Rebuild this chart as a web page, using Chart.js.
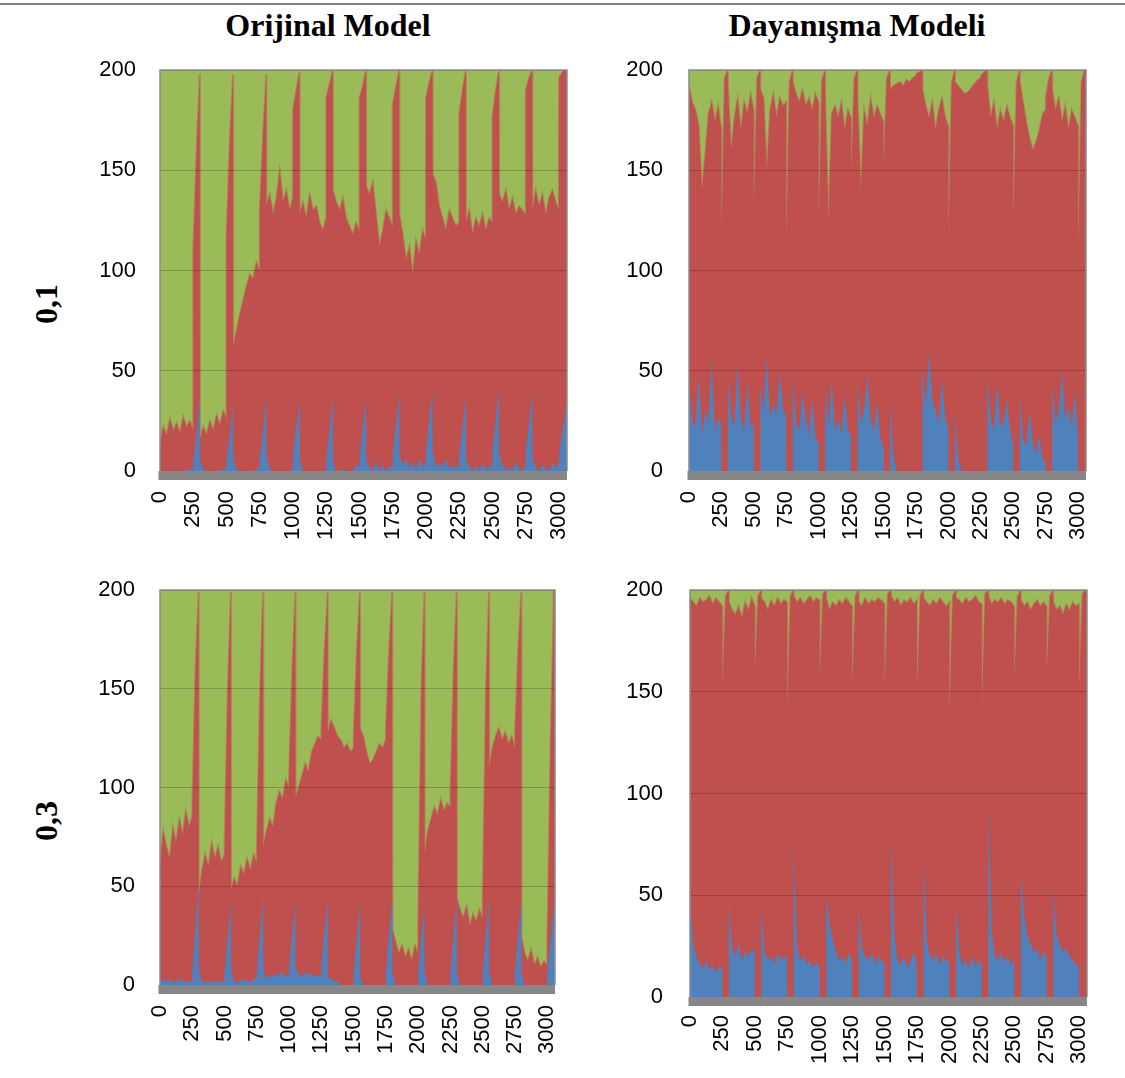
<!DOCTYPE html>
<html><head><meta charset="utf-8">
<script src="https://cdn.jsdelivr.net/npm/chart.js@4.4.1/dist/chart.umd.min.js"></script>
<style>
body{margin:0;background:#fff;width:1125px;height:1078px;overflow:hidden;position:relative;font-family:"Liberation Sans",Arial,sans-serif}
.wrap{position:absolute}
.title{position:absolute;font-family:"Liberation Serif","Times New Roman",serif;font-weight:bold;font-size:32px;color:#000;white-space:nowrap;transform:translate(-50%,-50%)}
.row{position:absolute;font-family:"Liberation Serif","Times New Roman",serif;font-weight:bold;font-size:32px;color:#000;white-space:nowrap;transform:translate(-50%,-50%) rotate(-90deg)}
.topline{position:absolute;left:0;top:3px;width:1125px;height:2px;background:#808080}
</style></head>
<body>
<div class="topline"></div>
<div class="title" style="left:328px;top:25px">Orijinal Model</div>
<div class="title" style="left:857px;top:25px">Dayanışma Modeli</div>
<div class="row" style="left:46px;top:304px">0,1</div>
<div class="row" style="left:46px;top:821px">0,3</div>
<div class="wrap" id="c1"></div>
<div class="wrap" id="c2"></div>
<div class="wrap" id="c3"></div>
<div class="wrap" id="c4"></div>
<script>
const xTicks = [0,250,500,750,1000,1250,1500,1750,2000,2250,2500,2750,3000];
const yTicks = [0,50,100,150,200];

const xSteps = [
0,25,
50,75,100,125,150,175,200,225,249,250,275,299,
300,325,350,375,400,425,450,475,499,500,525,549,
550,575,600,625,650,675,700,725,749,750,775,799,
800,825,850,875,900,925,950,975,999,1000,1025,1049,
1050,1075,1100,1125,1150,1175,1200,1225,1249,1250,1275,1299,
1300,1325,1350,1375,1400,1425,1450,1475,1499,1500,1525,1549,
1550,1575,1600,1625,1650,1675,1700,1725,1749,1750,1775,1799,
1800,1825,1850,1875,1900,1925,1950,1975,1999,2000,2025,2049,
2050,2075,2100,2125,2150,2175,2200,2225,2249,2250,2275,2299,
2300,2325,2350,2375,2400,2425,2450,2475,2499,2500,2525,2549,
2550,2575,2600,2625,2650,2675,2700,2725,2749,2750,2775,2799,
2800,2825,2850,2875,2900,2925,2950,2975,2999,3000,3025,3049,
3050,3060];

// Orijinal Model, 0,1 : blue count and top of red (blue+red); green fills the rest up to 200
const orig01Blue = [
0,0,
0,0,0,0,0,0,0,1, 1,4,18,38,
6,1,0,0,0,0,0,1, 2,5,18,34,
6,1,0,0,0,0,0,1, 2,6,20,38,
8,1,0,0,0,0,0,0, 1,8,22,35,
6,0,0,0,0,0,0,0, 1,6,20,38,
5,0,0,1,0,0,0,3, 2,6,22,36,
6,2,0,5,0,3,0,2, 2,8,24,40,
8,3,6,2,4,1,6,3, 3,10,26,40,
10,2,4,2,6,1,3,2, 2,8,22,38,
6,2,0,3,0,4,1,2, 3,10,26,42,
8,3,0,2,0,5,1,0, 3,10,24,40,
6,2,0,3,1,0,4,2, 3,8,20,30,
32,34];
const orig01RedTop = [
14,22,
18,26,20,24,19,27,22,25, 20,110,160,198,
16,22,18,25,20,28,23,30, 26,118,165,198,
62,70,78,85,92,98,96,104, 100,130,168,198,
132,138,128,136,150,134,140,130, 136,180,190,199,
128,134,126,138,130,132,124,120, 126,186,193,200,
140,134,130,136,126,122,118,124, 120,186,192,200,
142,138,144,128,112,120,130,126, 122,183,192,200,
128,118,105,112,98,115,108,120, 115,186,194,200,
148,144,132,126,120,130,126,122, 124,178,190,200,
124,130,118,126,122,128,120,126, 124,177,190,200,
138,134,140,130,136,128,132,130, 128,190,196,200,
130,140,132,138,128,136,140,134, 130,196,199,200,
200,200];

// Dayanışma Modeli, 0,1
const dayan01Blue = [
45,25,
22,48,18,30,24,56,20,26, 24,0,0,0,
46,28,22,54,26,20,44,22, 24,0,0,0,
44,30,58,26,34,28,50,30, 28,0,0,0,
48,24,20,40,26,18,36,16, 14,0,0,0,
42,22,46,20,26,18,38,20, 18,0,0,0,
44,24,30,48,26,20,34,16, 12,0,0,0,
36,8,0,0,0,0,0,0, 0,0,0,0,
52,32,60,36,30,24,46,26, 22,0,0,0,
30,6,0,0,0,0,0,0, 0,0,0,0,
46,26,20,44,22,24,36,20, 14,0,0,0,
38,16,12,30,14,8,18,6, 4,0,0,0,
44,24,30,50,26,32,22,40, 16,0,0,0,
0,0];
const dayan01RedTop = [
192,184,
180,172,140,158,178,184,174,182, 170,118,196,200,
192,160,176,186,170,184,178,188, 180,132,196,200,
190,186,150,180,188,176,186,182, 184,115,194,200,
194,188,184,190,182,186,180,188, 184,124,195,200,
186,125,178,182,176,184,170,180, 176,150,196,200,
184,140,180,172,186,176,182,178, 174,152,196,200,
190,192,193,194,192,195,194,196, 197,198,199,200,
190,182,176,184,170,180,186,176, 172,118,194,200,
194,192,190,188,189,191,193,195, 196,197,199,200,
192,176,184,170,180,174,182,176, 172,124,194,200,
194,184,174,166,160,164,170,178, 180,186,196,200,
190,180,186,174,182,170,180,176, 172,110,194,200,
200,200];

// Orijinal Model, 0,3
const orig03Blue = [
3,2,
2,3,1,2,3,2,1,2, 2,6,28,52,
8,2,1,2,1,2,1,2, 2,5,25,42,
8,2,1,2,3,2,1,3, 3,6,26,45,
8,3,5,4,6,5,7,4, 5,8,26,42,
8,6,4,7,5,6,4,5, 5,10,28,44,
4,3,2,2,0,0,0,0, 0,4,24,42,
4,0,0,0,0,0,0,0, 0,6,26,44,
6,0,0,0,0,0,0,0, 0,5,24,40,
6,0,0,0,0,0,0,0, 0,6,26,44,
6,0,0,0,0,0,0,0, 0,6,26,44,
6,0,0,0,0,0,0,0, 0,6,26,44,
6,0,0,0,0,0,0,0, 0,5,22,38,
40,42];
const orig03RedTop = [
62,78,
70,64,80,72,84,76,88,80, 85,90,160,199,
45,58,66,60,72,64,70,62, 66,70,150,199,
48,54,50,60,56,64,58,66, 62,70,150,199,
70,78,84,80,92,98,94,104, 100,108,160,199,
95,100,106,112,108,118,122,126, 124,130,170,199,
128,134,130,126,124,120,122,118, 120,126,170,199,
130,126,118,112,114,118,122,120, 124,130,170,199,
28,22,16,20,14,18,12,20, 16,30,150,199,
66,78,84,90,86,94,88,92, 90,96,160,199,
44,38,34,40,30,36,32,38, 34,44,150,199,
110,120,126,130,124,128,122,126, 120,128,170,199,
24,16,12,18,10,14,9,12, 10,20,120,190,
200,200];

// Dayanışma Modeli, 0,3
const dayan03Blue = [
50,26,
20,16,14,18,13,16,12,15, 14,0,0,0,
46,24,20,26,18,22,20,24, 22,0,0,0,
46,22,18,20,16,22,18,20, 19,0,0,0,
74,24,18,20,16,18,14,17, 15,0,0,0,
50,36,28,22,18,20,16,22, 18,0,0,0,
44,24,20,18,22,16,20,18, 16,0,0,0,
80,30,18,16,20,14,18,22, 16,0,0,0,
66,28,20,18,22,16,20,18, 17,0,0,0,
46,22,16,18,14,20,15,18, 16,0,0,0,
96,32,20,18,22,17,20,16, 18,0,0,0,
62,40,30,26,22,24,18,22, 20,0,0,0,
54,30,26,22,24,20,18,16, 15,0,0,0,
0,0];
const dayan03RedTop = [
196,194,
192,196,194,195,197,193,196,194, 192,152,197,200,
194,190,188,192,186,194,190,196, 192,160,197,200,
196,194,190,195,192,196,193,195, 194,142,197,200,
197,194,196,193,195,197,194,196, 195,156,198,200,
196,190,194,192,195,193,196,194, 192,152,197,200,
194,192,196,193,195,194,196,195, 193,152,198,200,
197,194,196,192,195,194,196,193, 195,151,197,200,
196,194,192,195,193,196,194,192, 194,138,197,200,
196,195,193,196,194,195,197,194, 193,144,198,200,
197,193,195,194,196,193,195,194, 192,156,197,200,
195,192,194,190,193,195,192,194, 192,160,197,200,
194,190,192,188,193,190,194,192, 193,152,198,200,
200,200];

const BLUE = '#4F81BD', RED = '#C0504D', GREEN = '#9BBB59', MIX = '#AE8A58';

function pts(ys){ return xSteps.map((x,i)=>({x:x, y:ys[i]})); }

const frame = {
  id:'frame',
  afterDraw(chart){
    const {ctx, chartArea:a} = chart;
    ctx.save();
    ctx.fillStyle = '#878787';
    ctx.fillRect(a.left - 1.5, a.bottom, a.right - a.left + 1.5, 9);
    ctx.strokeStyle = '#8c8c8c';
    ctx.lineWidth = 1.5;
    ctx.beginPath();
    ctx.moveTo(a.left, a.bottom); ctx.lineTo(a.left, a.top); ctx.lineTo(a.right, a.top); ctx.lineTo(a.right, a.bottom);
    ctx.stroke();
    ctx.restore();
  }
};

function zeroPad(s){ s.paddingTop = 0; s.paddingBottom = 0; s.paddingLeft = 0; s.paddingRight = 0; }

function build(id, rect, blue, redTop, yPad, xPad){
  const wrap = document.getElementById(id);
  const W = rect.R - rect.L + 90 + 12, H = rect.B - rect.T + 12 + 80;
  wrap.style.left = (rect.L - 90) + 'px';
  wrap.style.top = (rect.T - 12) + 'px';
  const cv = document.createElement('canvas');
  cv.width = W; cv.height = H; cv.style.width = W + 'px'; cv.style.height = H + 'px';
  wrap.appendChild(cv);
  const ds = (label, data, fill, color, line, lw) => ({label, data, fill, backgroundColor: color,
      borderColor: line, borderWidth: lw, pointRadius: 0, tension: 0});
  new Chart(cv, {
    type: 'line',
    data: { datasets: [
      ds('blue', pts(blue), 'origin', BLUE, 'rgba(0,0,0,0)', 0),
      ds('red', pts(redTop), 'origin', RED, 'rgba(0,0,0,0)', 0),
      ds('green', pts(redTop), 'end', GREEN, MIX, 2)
    ]},
    options: {
      responsive: false, animation: false, devicePixelRatio: 1,
      layout: { padding: { left: 0, top: 12, right: 12, bottom: 0 } },
      plugins: { legend: { display: false }, tooltip: { enabled: false } },
      scales: {
        x: {
          type: 'linear', min: 0, max: 3060,
          afterBuildTicks: a => { a.ticks = xTicks.map(v => ({ value: v })); },
          afterFit: s => { s.height = 80; zeroPad(s); },
          grid: { display: false }, border: { display: false },
          ticks: { autoSkip: false, minRotation: 90, maxRotation: 90, padding: xPad, color: '#000',
                   font: { family: 'Liberation Sans', size: 22 }, callback: v => String(v) }
        },
        y: {
          min: 0, max: 200,
          afterBuildTicks: a => { a.ticks = yTicks.map(v => ({ value: v })); },
          afterFit: s => { s.width = 90; zeroPad(s); },
          grid: { z: 1, color: 'rgba(0,0,0,0.2)', drawTicks: false },
          border: { display: false },
          ticks: { padding: yPad, color: '#000', font: { family: 'Liberation Sans', size: 22 }, callback: v => String(v) }
        }
      }
    },
    plugins: [frame]
  });
}

build('c1', {L:160, T:70, R:567, B:471}, orig01Blue, orig01RedTop, 24, 12);
build('c2', {L:689, T:70, R:1086, B:471}, dayan01Blue, dayan01RedTop, 26, 12);
build('c3', {L:160, T:590, R:555, B:985}, orig03Blue, orig03RedTop, 25, 12);
build('c4', {L:690, T:590, R:1087, B:997}, dayan03Blue, dayan03RedTop, 27, 10);
</script>
</body></html>
